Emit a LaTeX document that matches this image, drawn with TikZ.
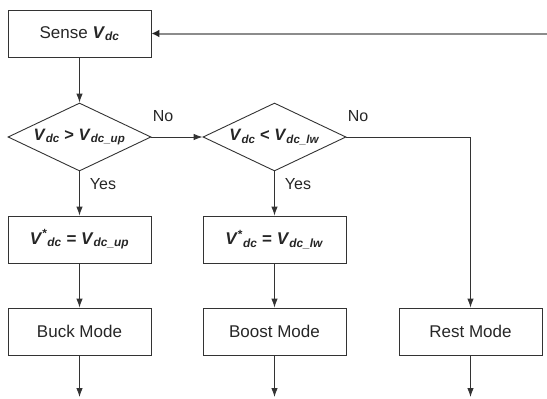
\documentclass[tikz,border=0pt]{standalone}
\usepackage{fontspec}
\setmainfont{Liberation Sans}
\usetikzlibrary{shapes.geometric,arrows.meta}
\newcommand{\bi}[1]{\textbf{\textit{#1}}}
\newcommand{\Vsub}[1]{\bi{V}\textsubscript{\bi{#1}}}
\begin{document}
\begin{tikzpicture}[x=1pt,y=-1pt,
  every node/.style={text=black!85},
  procbox/.style={draw=black!80,line width=0.9pt,minimum width=143pt,minimum height=47pt,inner sep=0pt,font=\fontsize{17}{19}\selectfont},
  decide/.style={draw=black!80,line width=0.9pt,shape=diamond,aspect=2.1,minimum width=143pt,minimum height=68pt,inner sep=0pt,font=\fontsize{16.5}{18}\selectfont},
  lbl/.style={font=\fontsize{16}{18}\selectfont,inner sep=0pt},
  conn/.style={draw=black!80,line width=0.9pt,-{Latex[length=9pt,width=6.5pt]}},
  fb/.style={draw=black!45,line width=2pt,-{Latex[length=8pt,width=8pt,color=black!85]}}]
\useasboundingbox (0,0) rectangle (547,399);
\node[procbox] (sense) at (79.5,33.5) {Sense \Vsub{dc}};
\node[decide] (d1) at (79.5,137) {\Vsub{dc} \textbf{>} \Vsub{dc\_up}};
\node[decide] (d2) at (274.5,137) {\Vsub{dc} \textbf{<} \Vsub{dc\_lw}};
\node[procbox] (v1) at (79.5,239.5) {\bi{V}\textsuperscript{\textbf{*}}\textsubscript{\bi{dc}} \textbf{=} \Vsub{dc\_up}};
\node[procbox] (v2) at (274.5,239.5) {\bi{V}\textsuperscript{\textbf{*}}\textsubscript{\bi{dc}} \textbf{=} \Vsub{dc\_lw}};
\node[procbox] (buck) at (79.5,331.5) {Buck Mode};
\node[procbox] (boost) at (274.5,331.5) {Boost Mode};
\node[procbox] (rest) at (470.5,331.5) {Rest Mode};
\coordinate (fbin) at (547,33.5);
\coordinate (corner) at (470.5,137);
\coordinate (e1) at (79.5,397);
\coordinate (e2) at (274.5,397);
\coordinate (e3) at (470.5,397);
\draw[fb] (fbin) -- (sense.east);
\draw[conn] (sense) -- (d1);
\draw[conn] (d1) -- (d2);
\draw[conn] (d1) -- (v1);
\draw[conn] (d2) -- (v2);
\draw[conn] (v1) -- (buck);
\draw[conn] (v2) -- (boost);
\draw[conn] (d2.east) -- (corner) -- (rest);
\draw[conn] (buck) -- (e1);
\draw[conn] (boost) -- (e2);
\draw[conn] (rest) -- (e3);
\node[lbl] (no1) at (163,116) {No};
\node[lbl] (no2) at (358,116) {No};
\node[lbl] (yes1) at (103,184) {Yes};
\node[lbl] (yes2) at (298,184) {Yes};
\end{tikzpicture}
\end{document}
